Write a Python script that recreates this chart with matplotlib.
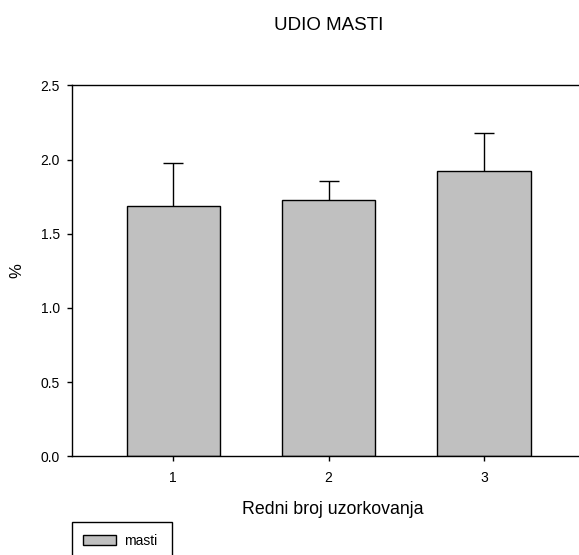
import matplotlib
matplotlib.use("Agg")
import matplotlib.pyplot as plt
from matplotlib.patches import Rectangle, Patch

categories = [1, 2, 3]
values = [1.687, 1.729, 1.922]
errors = [0.291, 0.126, 0.255]
yticks = [0.0, 0.5, 1.0, 1.5, 2.0, 2.5]
title = "UDIO MASTI"
xlabel = "Redni broj uzorkovanja"
ylabel = "%"
legend_label = "masti"

plt.rcParams['font.family'] = ['Liberation Sans', 'DejaVu Sans']

W, H = 579, 555
fig = plt.figure(figsize=(W / 100, H / 100), dpi=100)
ax = fig.add_axes([72.3 / W, 1 - 456.3 / H, (585 - 72.3) / W, (456.3 - 85.3) / H])

ax.bar(categories, values, width=0.6, color='#c0c0c0', edgecolor='black',
       linewidth=1.0, zorder=2)
eb = ax.errorbar(categories, values, yerr=[[0] * len(errors), errors], fmt='none',
                 ecolor='black', elinewidth=1.0, capsize=7.5, capthick=1.0, zorder=3)
# only the upper caps are shown
caplines = eb.lines[1]
if len(caplines) == 2:
    caplines[0].set_visible(False)

ax.set_xlim(0.35, 3.65)
ax.set_ylim(0, 2.5)
ax.set_yticks(yticks)
ax.set_yticklabels([f"{t:.1f}" for t in yticks])
ax.set_xticks(categories)
ax.set_xticklabels([str(c) for c in categories])
ax.tick_params(axis='y', direction='out', length=3.6, width=1, pad=5.3, labelsize=10)
ax.tick_params(axis='x', direction='out', length=3.3, width=1, pad=7.5, labelsize=10)
for s in ['left', 'bottom', 'top']:
    ax.spines[s].set_linewidth(1.0)
ax.spines['right'].set_visible(False)

ax.set_title(title, fontsize=13.5, pad=40)
ax.set_xlabel(xlabel, fontsize=12.8)
ax.xaxis.set_label_coords((333 - 72.3) / (585 - 72.3), -0.12)
ax.xaxis.label.set_va('top')
ax.set_ylabel(ylabel, fontsize=12)
ax.yaxis.set_label_coords(-(72.3 - 17) / (585 - 72.3), 0.5)
ax.yaxis.label.set_va('center')

# legend box (cut off at bottom of figure, as in reference)
fig.patches.append(Rectangle((72.3 / W, -0.05), (172.3 - 72.3) / W,
                             (1 - 521.7 / H) + 0.05, transform=fig.transFigure,
                             facecolor='white', edgecolor='black', linewidth=1.0))
fig.legend(handles=[Patch(facecolor='#c0c0c0', edgecolor='black', linewidth=1.0,
                          label=legend_label)],
           loc='center left', bbox_to_anchor=(82.7 / W, 1 - 541 / H),
           frameon=False, fontsize=10, borderpad=0, borderaxespad=0,
           handlelength=2.37, handleheight=0.72, handletextpad=0.6)

fig.savefig("out.png", dpi=100)
